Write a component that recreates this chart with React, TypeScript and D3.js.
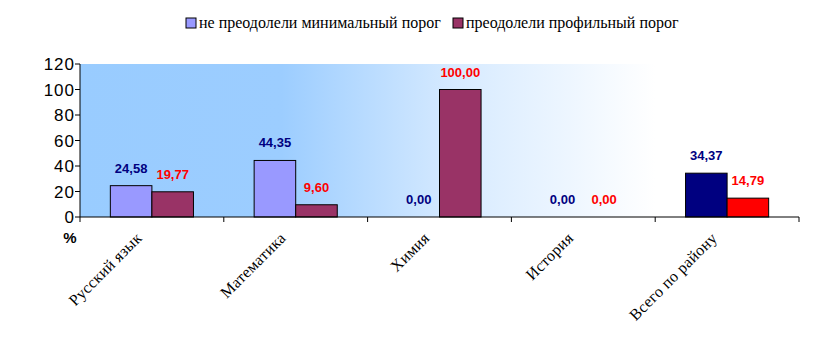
import React from "react";
import * as d3 from "d3";

const categories = ["Русский язык", "Математика", "Химия", "История", "Всего по району"];
const seriesNames = ["не преодолели минимальный порог", "преодолели профильный порог"];
const notPassedMin = [24.58, 44.35, 0.0, 0.0, 34.37];
const passedProfile = [19.77, 9.6, 100.0, 0.0, 14.79];
const yTicks = [0, 20, 40, 60, 80, 100, 120];

const W = 818;
const H = 351;
const margin = { left: 80, right: 19, top: 64, bottom: 134 };

const seriesFill = ["#9999FF", "#993366"];
const totalFill = ["#000080", "#FF0000"];
const labelColor = ["#000080", "#FF0000"];

const fmt = (v: number) => v.toFixed(2).replace(".", ",");

export default function App() {
  const x = d3
    .scaleBand<string>()
    .domain(categories)
    .range([margin.left, W - margin.right])
    .paddingInner(0)
    .paddingOuter(0);
  const xs = d3
    .scaleBand<number>()
    .domain([0, 1])
    .range([0, x.bandwidth()])
    .paddingInner(0)
    .paddingOuter(0.73);
  const y = d3.scaleLinear().domain([0, 120]).range([H - margin.bottom, margin.top]);
  const values = [notPassedMin, passedProfile];
  const y0 = y(0);
  const serif = "'Liberation Serif', 'Times New Roman', 'DejaVu Serif', serif";
  const sans = "'Liberation Sans', Arial, sans-serif";

  return (
    <svg
      width={W}
      height={H}
      style={{ position: "absolute", left: 0, top: 0, background: "#fff" }}
    >
      <defs>
        <linearGradient id="bg" x1="0" x2="1" y1="0" y2="0">
          <stop offset="0" stopColor="#99CCFF" />
          <stop offset="0.28" stopColor="#9CCDFF" />
          <stop offset="0.52" stopColor="#D6EAFF" />
          <stop offset="0.8" stopColor="#FFFFFF" />
        </linearGradient>
      </defs>

      {/* legend */}
      <g fontFamily={serif} fontSize={16}>
        <rect x={186} y={18} width={10} height={10} fill={seriesFill[0]} stroke="#000" />
        <text x={199} y={28}>{seriesNames[0]}</text>
        <rect x={453} y={18} width={10} height={10} fill={seriesFill[1]} stroke="#000" />
        <text x={466} y={28}>{seriesNames[1]}</text>
      </g>

      {/* plot background */}
      <rect
        x={margin.left}
        y={margin.top}
        width={W - margin.left - margin.right}
        height={y0 - margin.top}
        fill="url(#bg)"
      />

      {/* bars */}
      {values.map((vals, s) =>
        vals.map((v, i) => {
          const bx = (x(categories[i]) ?? 0) + (xs(s) ?? 0);
          const isTotal = i === categories.length - 1;
          return v > 0 ? (
            <rect
              key={`b${s}-${i}`}
              x={bx}
              y={y(v)}
              width={xs.bandwidth()}
              height={y0 - y(v)}
              fill={isTotal ? totalFill[s] : seriesFill[s]}
              stroke="#000"
              strokeWidth={1}
            />
          ) : null;
        })
      )}

      {/* value labels */}
      <g fontFamily={sans} fontSize={13} fontWeight="bold" textAnchor="middle">
        {values.map((vals, s) =>
          vals.map((v, i) => (
            <text
              key={`l${s}-${i}`}
              x={(x(categories[i]) ?? 0) + (xs(s) ?? 0) + xs.bandwidth() / 2}
              y={y(v) - 13}
              fill={labelColor[s]}
            >
              {fmt(v)}
            </text>
          ))
        )}
      </g>

      {/* y axis */}
      <line x1={margin.left} x2={margin.left} y1={margin.top} y2={y0} stroke="#000" />
      <g fontFamily={sans} fontSize={17} letterSpacing={1} textAnchor="end">
        {yTicks.map((t) => (
          <g key={`y${t}`}>
            <line x1={margin.left - 5} x2={margin.left} y1={y(t)} y2={y(t)} stroke="#000" />
            <text x={margin.left - 5} y={y(t)} dy="0.36em">
              {t}
            </text>
          </g>
        ))}
      </g>
      <text x={70} y={243} textAnchor="middle" fontFamily={sans} fontSize={15} fontWeight="bold">
        %
      </text>

      {/* x axis */}
      <line x1={margin.left} x2={W - margin.right} y1={y0} y2={y0} stroke="#000" />
      {categories.map((c) => (
        <line key={`t${c}`} x1={x(c)} x2={x(c)} y1={y0} y2={y0 + 5} stroke="#000" />
      ))}
      <line x1={W - margin.right} x2={W - margin.right} y1={y0} y2={y0 + 5} stroke="#000" />
      <g fontFamily={serif} fontSize={16} letterSpacing={0.3} textAnchor="end">
        {categories.map((c) => {
          const cx = (x(c) ?? 0) + x.bandwidth() / 2 - 9;
          const cy = y0 + 22;
          return (
            <text key={`c${c}`} x={cx} y={cy} transform={`rotate(-45 ${cx} ${cy})`}>
              {c}
            </text>
          );
        })}
      </g>
    </svg>
  );
}
